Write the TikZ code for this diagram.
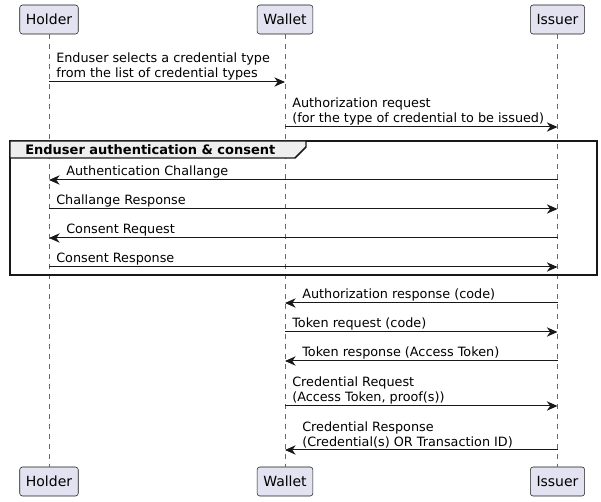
\documentclass[tikz,border=0pt]{standalone}
\usepackage{fontspec}
\setmainfont{DejaVu Sans}
\usetikzlibrary{arrows.meta,positioning}
\definecolor{partbg}{HTML}{E2E2F0}
\definecolor{ink}{HTML}{181818}
\definecolor{tabbg}{HTML}{EEEEEE}

\begin{document}
\begin{tikzpicture}[x=0.75pt,y=-0.75pt,
  part/.style={draw=ink,fill=partbg,rounded corners=2pt,line width=0.4pt,minimum height=21.75pt,inner xsep=4.6pt,font=\fontsize{10.5}{12}\selectfont},
  life/.style={ink!65,dash pattern=on 3.75pt off 3.75pt,line width=0.4pt},
  msg/.style={ink,line width=0.75pt,-{Stealth[length=8pt,width=7pt,inset=2.5pt]}},
  lbl/.style={anchor=south west,inner sep=0pt,align=left,font=\fontsize{9.6}{11.25}\selectfont}]
\useasboundingbox (0,0) rectangle (601,502);
% participants
\node[part] (holder) at (49,19.5){Holder};\node[part] (holderB) at (49,481.5){Holder};
\node[part] (wallet) at (285,19.5){Wallet};\node[part] (walletB) at (285,481.5){Wallet};
\node[part] (issuer) at (557.5,19.5){Issuer};\node[part] (issuerB) at (557.5,481.5){Issuer};
\draw[life] (holder)--(holderB);\draw[life] (wallet)--(walletB);\draw[life] (issuer)--(issuerB);
% group frame
\draw[ink,line width=1.1pt] (10,141) rectangle (597,275);
\filldraw[fill=tabbg,draw=ink,line width=1.1pt] (10,141)--(306,141)--(306,147)--(295,158)--(10,158)--cycle;
\node[anchor=west,inner sep=0pt,font=\fontsize{9.75}{11.25}\selectfont\bfseries] (grp) at (25,149.5){Enduser authentication \& consent};
% message rows
\foreach \n/\y in {1/82,2/127,3/180,4/209,5/238,6/267,7/303,8/332,9/361,10/406,11/450}{\coordinate (r\n) at (0,\y);}
\draw[msg] (holder|-r1)--(wallet|-r1);\node[lbl] (t1) at (56,80){Enduser selects a credential type\\from the list of credential types};
\draw[msg] (wallet|-r2)--(issuer|-r2);\node[lbl] (t2) at (292,125){Authorization request\\(for the type of credential to be issued)};
\draw[msg] (issuer|-r3)--(holder|-r3);\node[lbl] (t3) at (66,178){Authentication Challange};
\draw[msg] (holder|-r4)--(issuer|-r4);\node[lbl] (t4) at (56,207){Challange Response};
\draw[msg] (issuer|-r5)--(holder|-r5);\node[lbl] (t5) at (66,236){Consent Request};
\draw[msg] (holder|-r6)--(issuer|-r6);\node[lbl] (t6) at (56,265){Consent Response};
\draw[msg] (issuer|-r7)--(wallet|-r7);\node[lbl] (t7) at (302,301){Authorization response (code)};
\draw[msg] (wallet|-r8)--(issuer|-r8);\node[lbl] (t8) at (292,330){Token request (code)};
\draw[msg] (issuer|-r9)--(wallet|-r9);\node[lbl] (t9) at (302,359){Token response (Access Token)};
\draw[msg] (wallet|-r10)--(issuer|-r10);\node[lbl] (t10) at (292,404){Credential Request\\(Access Token, proof(s))};
\draw[msg] (issuer|-r11)--(wallet|-r11);\node[lbl] (t11) at (302,448){Credential Response\\(Credential(s) OR Transaction ID)};
\end{tikzpicture}
\end{document}
